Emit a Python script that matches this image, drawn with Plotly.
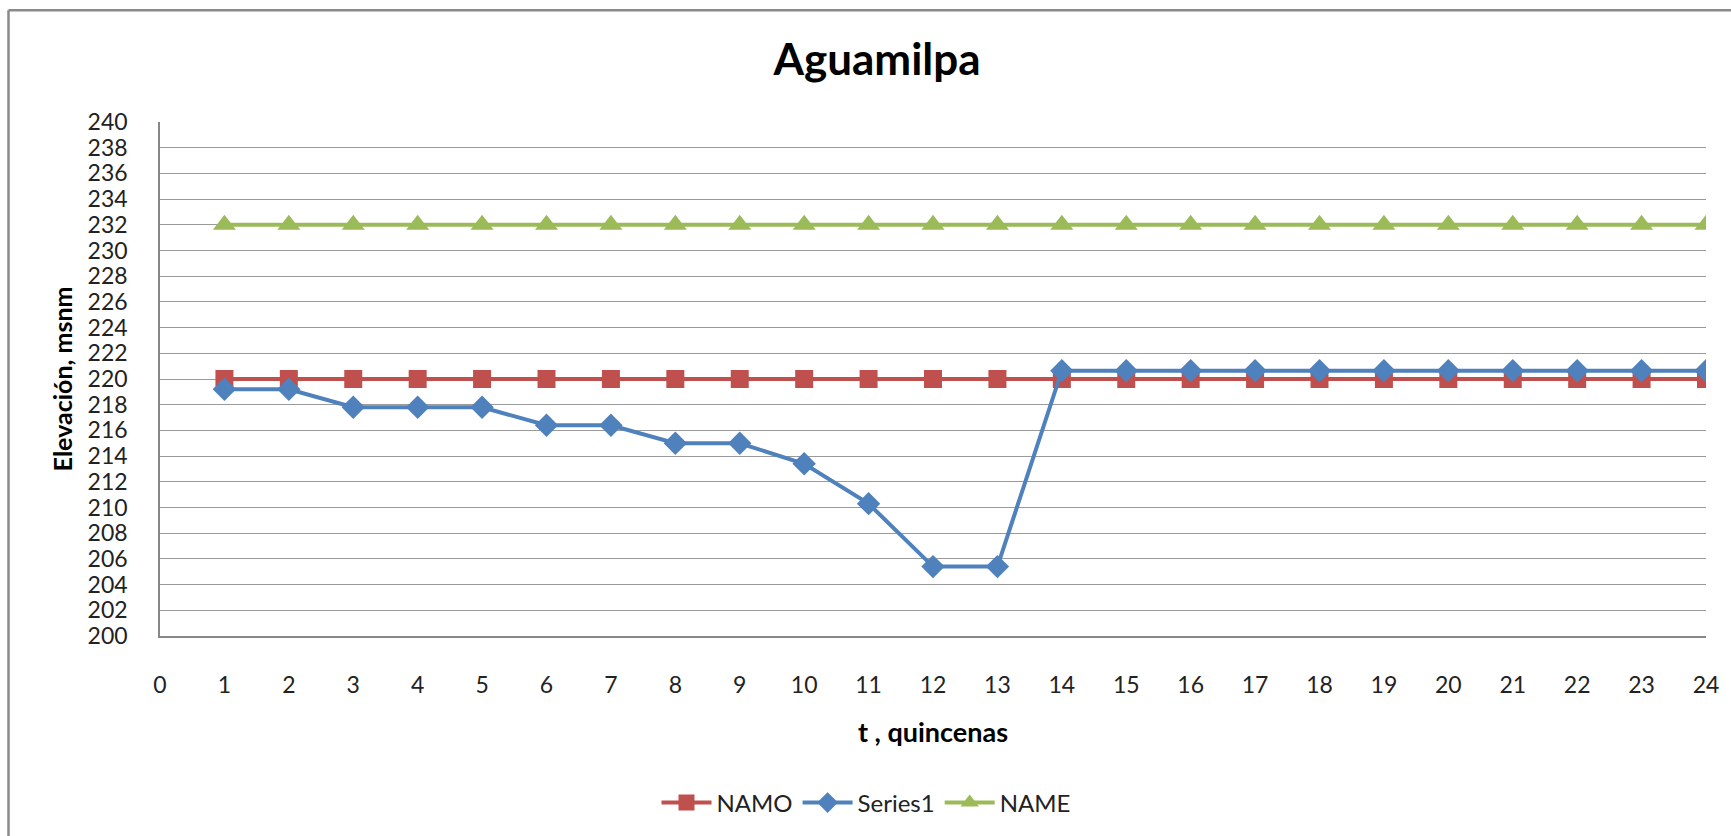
import plotly.graph_objects as go

t = list(range(1, 25))
namo = [220] * 24
series1 = [219.2, 219.2, 217.8, 217.8, 217.8, 216.4, 216.4, 215.0, 215.0, 213.4,
           210.3, 205.4, 205.4, 220.65, 220.65, 220.65, 220.65, 220.65, 220.65, 220.65,
           220.65, 220.65, 220.65, 220.65]
name_ = [232] * 24
y_ticks = list(range(200, 241, 2))
x_ticks = list(range(0, 25))

FONT = "Lato, 'Open Sans', sans-serif"

fig = go.Figure()
fig.add_trace(go.Scatter(x=t, y=namo, name="NAMO", mode="lines+markers",
                         line=dict(color="#C0504D", width=4),
                         marker=dict(symbol="square", size=18, color="#C0504D")))
fig.add_trace(go.Scatter(x=t, y=series1, name="Series1", mode="lines+markers",
                         line=dict(color="#4F81BD", width=4),
                         marker=dict(symbol="diamond", size=18, color="#4F81BD")))
fig.add_trace(go.Scatter(x=t, y=name_, name="NAME", mode="lines+markers",
                         line=dict(color="#9BBB59", width=4),
                         marker=dict(symbol="triangle-up", size=20, color="#9BBB59")))

fig.update_layout(
    width=1731, height=836,
    paper_bgcolor="white", plot_bgcolor="white",
    margin=dict(l=160, r=25, t=122, b=199),
    font=dict(family=FONT, color="#222222", size=23),
    title=dict(text="<b>Aguamilpa</b>", x=877/1731, xanchor="center",
               y=1 - 60/836, yanchor="middle",
               font=dict(size=44, color="black", family=FONT)),
    xaxis=dict(range=[0, 24], tickmode="array", tickvals=x_ticks,
               showgrid=False, zeroline=False, showline=True,
               linecolor="#878787", linewidth=1.5, ticks="",
               ticklabelstandoff=28,
               title=dict(text="<b>t , quincenas</b>", standoff=26,
                          font=dict(size=27, color="black"))),
    yaxis=dict(range=[200, 240], tickmode="array", tickvals=y_ticks,
               showgrid=True, gridcolor="#9a9a9a", gridwidth=1.2,
               zeroline=False, showline=True, linecolor="#878787", linewidth=1.5,
               ticks="", ticklabelstandoff=26,
               title=dict(text="<b>Elevación, msnm</b>", standoff=8,
                          font=dict(size=25, color="black"))),
    legend=dict(orientation="h", x=(866 - 160) / 1546, xanchor="center",
                y=(637 - 803) / 515, yanchor="middle",
                font=dict(size=24, color="#222222"), itemwidth=50,
                traceorder="normal"),
    showlegend=True,
)

fig.add_shape(type="line", xref="paper", yref="paper",
              x0=(8.5 - 160) / 1546, x1=(8.5 - 160) / 1546,
              y0=(637 - 840) / 515, y1=(637 - 10) / 515,
              line=dict(color="#8a8a8a", width=2.5))
fig.add_shape(type="line", xref="paper", yref="paper",
              x0=(8.5 - 160) / 1546, x1=(1740 - 160) / 1546,
              y0=(637 - 10) / 515, y1=(637 - 10) / 515,
              line=dict(color="#8a8a8a", width=2.5))

fig.write_html("out.html", config={"displayModeBar": False},
               post_script="document.body.style.margin='0px';"
                           "document.body.style.overflow='hidden';")
